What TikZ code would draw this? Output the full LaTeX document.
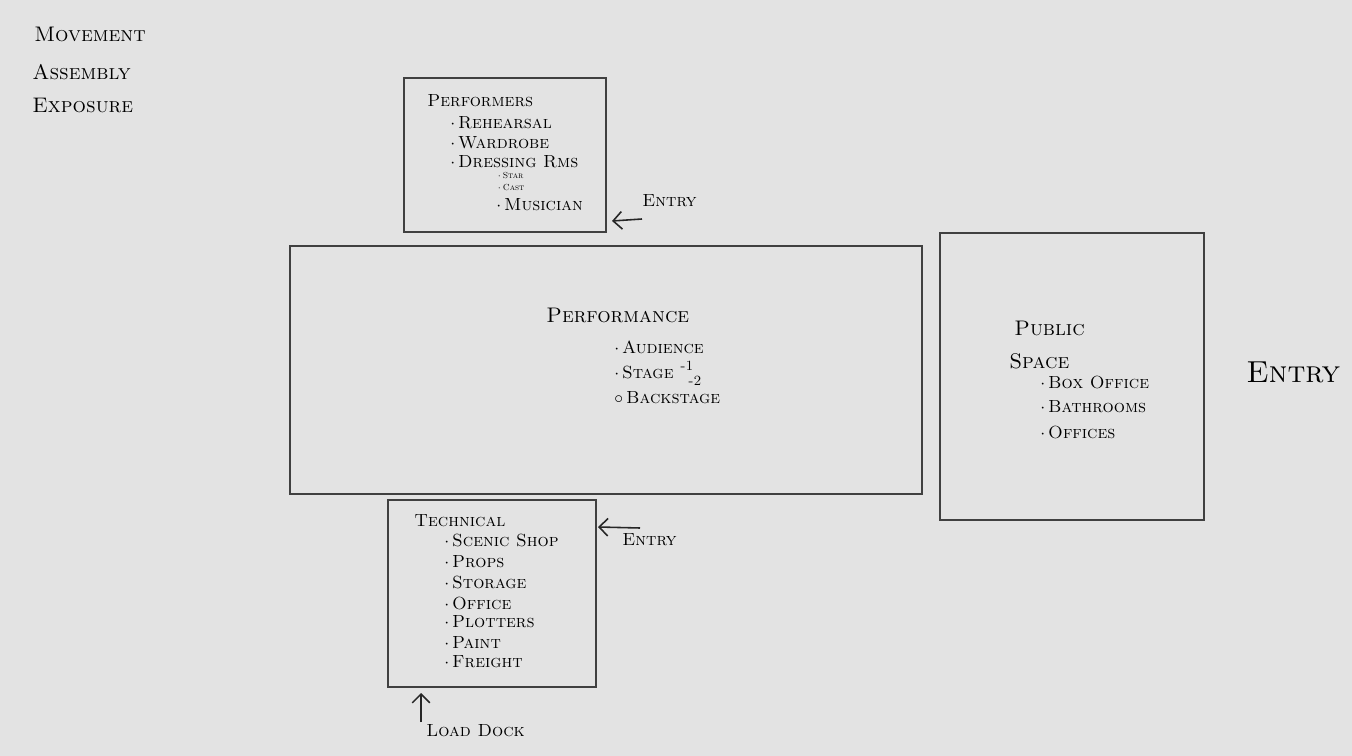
\documentclass[tikz,border=0pt]{standalone}
\usetikzlibrary{arrows.meta}
\begin{document}
\begin{tikzpicture}[x=0.02cm,y=-0.02cm,
  room/.style={line width=1.6pt,draw=black!75},
  title/.style={anchor=west,inner sep=0pt,font=\scshape\large},
  item/.style={anchor=west,inner sep=0pt,font=\scshape},
  sub/.style={anchor=west,inner sep=0pt,font=\scshape\footnotesize},
  tinysub/.style={anchor=west,inner sep=0pt,font=\scshape\tiny},
  entryarrow/.style={-{Straight Barb[length=5pt]},line width=0.9pt,draw=black!85}]
\fill[black!11] (0,0) rectangle (1352,756);

% notes in the corner
\node[title] (movement) at (34,34) {Movement};
\node[title] (assembly) at (32,72) {Assembly};
\node[title] (exposure) at (32,105) {Exposure};

% rooms
\draw[room] (404,78) rectangle (606,232);
\draw[room] (290,246) rectangle (922,494);
\draw[room] (940,233) rectangle (1204,520);
\draw[room] (388,500) rectangle (596,687);

% performers
\node[item] (performers) at (427,101) {Performers};
\node[item] (rehearsal) at (450,123) {$\cdot$\,Rehearsal};
\node[item] (wardrobe) at (450,143) {$\cdot$\,Wardrobe};
\node[item] (dressing) at (450,162) {$\cdot$\,Dressing Rms};
\node[tinysub] (star) at (497,176) {$\cdot$\,Star};
\node[tinysub] (cast) at (497,188) {$\cdot$\,Cast};
\node[item] (musician) at (496,205) {$\cdot$\,Musician};
\node[item] (entrytop) at (642,201) {Entry};
\coordinate (entrytopfrom) at (642,219);
\coordinate (entrytopto) at (612,221);
\draw[entryarrow] (entrytopfrom) -- (entrytopto);

% performance
\node[title] (performance) at (546,315) {Performance};
\node[item] (audience) at (614,347) {$\cdot$\,Audience};
\node[item] (stage) at (614,373) {$\cdot$\,Stage};
\node[sub] (stageone) at (680,366) {-1};
\node[sub] (stagetwo) at (688,381) {-2};
\node[item] (backstage) at (614,398) {$\circ$\,Backstage};

% public space
\node[title] (public) at (1014,328) {Public};
\node[title] (space) at (1009,361) {Space};
\node[item] (boxoffice) at (1040,383) {$\cdot$\,Box Office};
\node[item] (bathrooms) at (1040,407) {$\cdot$\,Bathrooms};
\node[item] (offices) at (1040,433) {$\cdot$\,Offices};
\node[title,font=\scshape\LARGE] (entryright) at (1246,372) {Entry};

% technical
\node[item] (technical) at (414,521) {Technical};
\node[item] (scenic) at (444,540) {$\cdot$\,Scenic Shop};
\node[item] (props) at (444,562) {$\cdot$\,Props};
\node[item] (storage) at (444,582) {$\cdot$\,Storage};
\node[item] (office) at (444,603) {$\cdot$\,Office};
\node[item] (plotters) at (444,622) {$\cdot$\,Plotters};
\node[item] (paint) at (444,642) {$\cdot$\,Paint};
\node[item] (freight) at (444,662) {$\cdot$\,Freight};
\node[item] (entrytech) at (622,540) {Entry};
\coordinate (entrytechfrom) at (640,528);
\coordinate (entrytechto) at (598,527);
\draw[entryarrow] (entrytechfrom) -- (entrytechto);
\node[item] (loaddock) at (426,731) {Load Dock};
\coordinate (loaddockfrom) at (421,722);
\coordinate (loaddockto) at (421,693);
\draw[entryarrow] (loaddockfrom) -- (loaddockto);
\end{tikzpicture}
\end{document}
